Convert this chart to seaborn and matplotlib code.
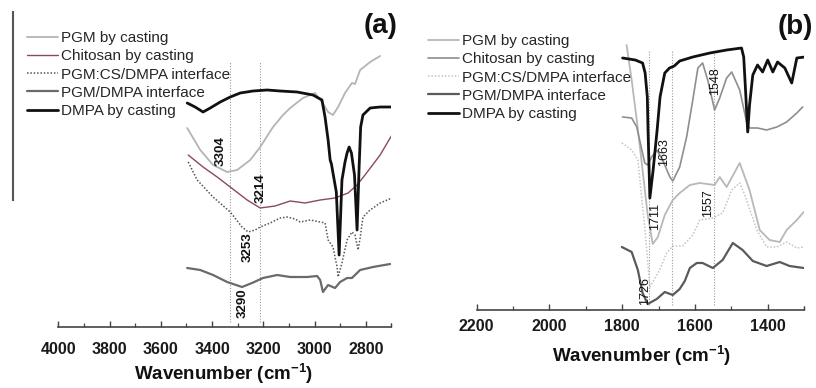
import matplotlib
matplotlib.use("Agg")
import matplotlib.pyplot as plt
import seaborn as sns
import pandas as pd

# ---------------- data: panel (a) ----------------
series_names = ["PGM by casting", "Chitosan by casting", "PGM:CS/DMPA interface",
                "PGM/DMPA interface", "DMPA by casting"]

a_pgm_wn = [3497, 3446, 3396, 3341, 3302, 3251, 3212, 3162, 3123, 3095, 3045, 2998, 2971,
            2947, 2928, 2908, 2881, 2854, 2842, 2822, 2783, 2744]
a_pgm = [199, 177, 162, 155, 157, 167, 180, 200, 212, 219, 229, 234, 225,
         215, 212, 220, 234, 244, 243, 257, 265, 271]

a_cs_wn = [3493, 3435, 3380, 3329, 3263, 3212, 3154, 3095, 3037, 2978, 2920, 2869, 2834,
           2803, 2744, 2698]
a_cs = [172, 160, 150, 140, 127, 119, 121, 126, 124, 127, 129, 134, 142, 152, 172, 192]

a_int_wn = [3493, 3458, 3396, 3329, 3283, 3259, 3232, 3212, 3173, 3134, 3107, 3076, 3056,
            3017, 2978, 2959, 2947, 2928, 2912, 2908, 2893, 2873, 2854, 2842, 2830, 2822,
            2811, 2783, 2744, 2698]
a_int = [165, 147, 130, 115, 100, 95, 97, 100, 104, 109, 110, 108, 105,
         107, 105, 104, 87, 80, 60, 50, 64, 87, 95, 92, 77, 89,
         110, 117, 124, 129]

a_pd_wn = [3497, 3446, 3396, 3341, 3283, 3244, 3201, 3146, 3095, 3029, 2990, 2978, 2967,
           2947, 2920, 2900, 2873, 2854, 2842, 2822, 2772, 2705]
a_pd = [59, 57, 52, 45, 40, 44, 49, 52, 50, 50, 51, 47, 35,
        42, 39, 45, 49, 49, 52, 57, 60, 63]

a_dmpa_wn = [3497, 3466, 3435, 3407, 3368, 3329, 3290, 3240, 3185, 3134, 3068, 3006, 2971,
             2959, 2947, 2939, 2934, 2928, 2915, 2904, 2893, 2881, 2873, 2865, 2856, 2844,
             2834, 2826, 2820, 2811, 2783, 2744, 2698]
a_dmpa = [224, 220, 215, 219, 225, 230, 234, 236, 237, 236, 235, 232, 227,
          210, 187, 167, 163, 154, 135, 72, 147, 165, 174, 180, 174, 152,
          97, 160, 200, 212, 219, 220, 220]

a_vlines = [3328, 3214]
a_peak_labels = ["3304", "3214", "3253", "3290"]
a_peak_wn = [3365, 3209, 3260, 3279]
a_peak_h = [176, 139, 80, 24]
a_ticks = [4000, 3800, 3600, 3400, 3200, 3000, 2800]

# ---------------- data: panel (b) ----------------
b_pgm_wn = [1788, 1774, 1760, 1744, 1730, 1716, 1702, 1683, 1661, 1642, 1614, 1587, 1546,
            1532, 1513, 1477, 1450, 1422, 1395, 1367, 1348, 1320, 1301]
b_pgm = [265, 230, 190, 140, 95, 66, 73, 95, 110, 117, 125, 127, 125,
         133, 123, 147, 120, 80, 70, 68, 80, 90, 98]

b_cs_wn = [1799, 1774, 1760, 1746, 1738, 1730, 1719, 1705, 1689, 1669, 1661, 1642, 1623,
           1606, 1592, 1579, 1565, 1546, 1532, 1513, 1499, 1477, 1458, 1450, 1428, 1403,
           1375, 1348, 1320, 1304]
b_cs = [193, 192, 183, 160, 147, 145, 153, 160, 150, 133, 129, 143, 173,
        210, 242, 247, 230, 200, 212, 232, 238, 220, 188, 182, 182, 180,
        183, 188, 197, 203]

b_int_wn = [1801, 1774, 1757, 1738, 1724, 1697, 1678, 1661, 1634, 1606, 1587, 1551, 1524,
            1499, 1477, 1463, 1430, 1403, 1375, 1348, 1320, 1301]
b_int = [167, 160, 150, 83, 23, 40, 57, 64, 64, 75, 90, 92, 97,
         120, 127, 115, 80, 63, 63, 68, 62, 63]

b_pd_wn = [1801, 1774, 1757, 1744, 1730, 1705, 1683, 1661, 1642, 1628, 1614, 1595, 1579,
           1551, 1524, 1496, 1469, 1441, 1403, 1367, 1340, 1301]
b_pd = [63, 58, 40, 17, 6, 11, 18, 15, 21, 29, 42, 47, 47,
        42, 50, 67, 60, 49, 44, 48, 44, 42]

b_dmpa_wn = [1799, 1764, 1744, 1737, 1731, 1729, 1724, 1715, 1704, 1696, 1683, 1670, 1657,
             1642, 1606, 1559, 1513, 1472, 1466, 1461, 1455, 1450, 1441, 1428, 1414, 1400,
             1386, 1373, 1353, 1334, 1320, 1298]
b_dmpa = [252, 250, 247, 237, 213, 180, 112, 140, 180, 213, 237, 242, 244,
          249, 253, 257, 260, 262, 253, 220, 178, 205, 235, 245, 238, 250,
          238, 248, 242, 227, 252, 253]

b_vlines = [1726, 1663, 1548]
b_peak_labels = ["1663", "1548", "1711", "1557", "1726"]
b_peak_wn = [1685, 1545, 1710, 1564, 1737]
b_peak_h = [158, 229, 94, 107, 19]
b_ticks = [2200, 2000, 1800, 1600, 1400]

# ---------------- styling ----------------
sns.set_style("white")
plt.rcParams["font.family"] = ["Liberation Sans", "DejaVu Sans"]
plt.rcParams["mathtext.fontset"] = "custom"
plt.rcParams["mathtext.rm"] = "Liberation Sans"
plt.rcParams["mathtext.bf"] = "Liberation Sans:bold"

a_styles = [dict(color="#b4b4b4", lw=1.3, ls="-"),
            dict(color="#8a4a58", lw=1.0, ls="-"),
            dict(color="#555555", lw=1.1, ls=(0, (1, 1.2))),
            dict(color="#6a6a6a", lw=1.6, ls="-"),
            dict(color="#111111", lw=2.0, ls="-")]
b_styles = [dict(color="#b8b8b8", lw=1.3, ls="-"),
            dict(color="#8e8e8e", lw=1.2, ls="-"),
            dict(color="#c4c4c4", lw=1.1, ls=(0, (1, 1.2))),
            dict(color="#5a5a5a", lw=1.6, ls="-"),
            dict(color="#111111", lw=2.0, ls="-")]

W, H = 816, 388
fig = plt.figure(figsize=(W / 100, H / 100), dpi=100)
ax_a = fig.add_axes([58.3 / W, 61 / H, 333.1 / W, 315 / H])
ax_b = fig.add_axes([476.7 / W, 78 / H, 327.4 / W, 298 / H])


def draw_panel(ax, wns, vals, styles, vlines, vtop, labels, lwn, lh, lbold):
    for name, wn, v, st in zip(series_names, wns, vals, styles):
        df = pd.DataFrame({"wn": wn, "v": v})
        sns.lineplot(data=df, x="wn", y="v", ax=ax, color=st["color"], lw=st["lw"],
                     linestyle=st["ls"], estimator=None, sort=False, label=name)
    for xv in vlines:
        ax.plot([xv, xv], [5, vtop], color="#9a9a9a", lw=0.8, ls=(0, (1, 1.5)), zorder=0)
    for t, x, y in zip(labels, lwn, lh):
        ax.text(x, y, t, rotation=90, ha="center", va="center",
                fontsize=9.5 if lbold else 9, fontweight="bold" if lbold else "normal",
                color="#111111")


draw_panel(ax_a, [a_pgm_wn, a_cs_wn, a_int_wn, a_pd_wn, a_dmpa_wn],
           [a_pgm, a_cs, a_int, a_pd, a_dmpa], a_styles, a_vlines, 266,
           a_peak_labels, a_peak_wn, a_peak_h, True)
draw_panel(ax_b, [b_pgm_wn, b_cs_wn, b_int_wn, b_pd_wn, b_dmpa_wn],
           [b_pgm, b_cs, b_int, b_pd, b_dmpa], b_styles, b_vlines, 260,
           b_peak_labels, b_peak_wn, b_peak_h, False)

ax_a.set_xlim(4000, 2700)
ax_a.set_ylim(0, 315)
ax_b.set_xlim(2200, 1300)
ax_b.set_ylim(0, 298)

for ax, ticks, pad in [(ax_a, a_ticks, 11), (ax_b, b_ticks, 6.5)]:
    ax.set_xticks(ticks)
    ax.set_xticklabels([str(t) for t in ticks], fontweight="bold", fontsize=11.5,
                       color="#1a1a1a")
    ax.set_xticks([t - 100 for t in ticks] + [ticks[-1] - 100], minor=True)
    ax.tick_params(axis="x", which="both", direction="in", bottom=True, pad=pad,
                   color="#444444")
    ax.tick_params(axis="x", which="major", length=4.5, width=1.0)
    ax.tick_params(axis="x", which="minor", length=3, width=0.9)
    ax.set_yticks([])
    ax.set_ylabel("")
    for s in ["top", "right"]:
        ax.spines[s].set_visible(False)
    ax.spines["bottom"].set_color("#444444")
    ax.spines["bottom"].set_linewidth(1.2)
    ax.set_xlabel(r"Wavenumber (cm$^{\mathbf{-1}}$)", fontsize=13.5, fontweight="bold",
                  color="#111111")
    ax.xaxis.label.set_va("center")
    ax.patch.set_alpha(0)

ax_a.xaxis.set_label_coords(0.497, -47 / 315)
ax_b.xaxis.set_label_coords(0.505, -46 / 298)

ax_a.spines["left"].set_position(("axes", -45.3 / 333.1))
ax_a.spines["left"].set_bounds(127, 315)
ax_a.spines["left"].set_color("#555555")
ax_a.spines["left"].set_linewidth(1.5)
ax_b.spines["left"].set_visible(False)

for ax, x0, y0 in [(ax_a, 27, 31), (ax_b, 428, 34)]:
    h, l = ax.get_legend_handles_labels()
    ax.legend(h[:5], l[:5], loc="upper left", bbox_to_anchor=(x0 / W, 1 - y0 / H),
              bbox_transform=fig.transFigure, frameon=False, fontsize=11,
              handlelength=2.0, handletextpad=0.25, labelspacing=0.28,
              borderpad=0, borderaxespad=0)

fig.text(381 / W, 1 - 26 / H, "(a)", fontsize=20, fontweight="bold", ha="center",
         va="center", color="#111111")
fig.text(795 / W, 1 - 27 / H, "(b)", fontsize=20, fontweight="bold", ha="center",
         va="center", color="#111111")

fig.savefig("out.png", dpi=100)
